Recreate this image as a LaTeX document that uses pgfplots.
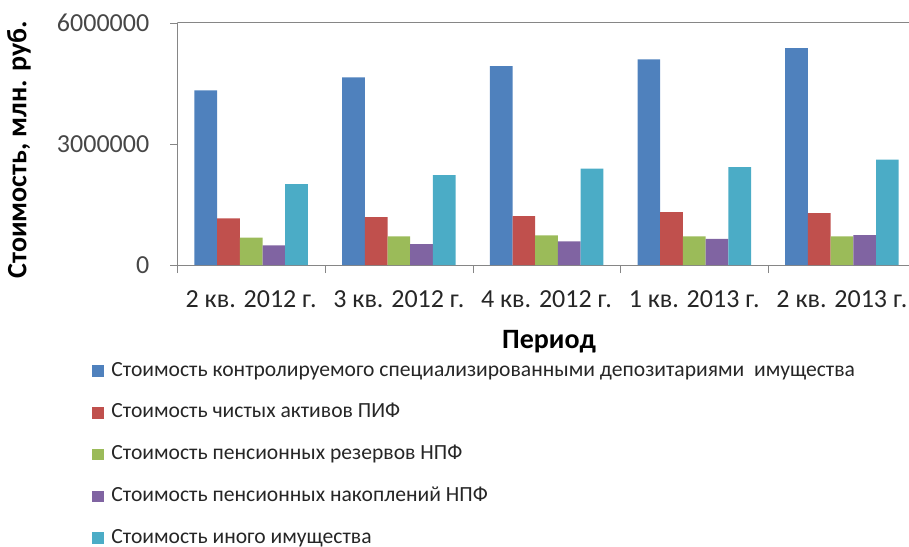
\documentclass[border=0pt]{standalone}
\usepackage{fontspec}
\setmainfont{Carlito}
\usepackage{pgfplots}
\pgfplotsset{compat=1.18}

\definecolor{sBlue}{HTML}{4F81BD}
\definecolor{sRed}{HTML}{C0504D}
\definecolor{sGreen}{HTML}{9BBB59}
\definecolor{sPurple}{HTML}{8064A2}
\definecolor{sCyan}{HTML}{4BACC6}
\definecolor{axgray}{HTML}{868686}
\definecolor{txt}{HTML}{262626}

\begin{document}
\begin{tikzpicture}
\useasboundingbox (-88.65pt,-140.5pt) rectangle (365.85pt,132.5pt);
\begin{axis}[
    at={(0,0)}, anchor=south west,
    scale only axis,
    width=365.85pt, height=121.15pt,
    ybar=0pt, bar width=11.35pt,
    xmin=-0.5, xmax=4.454,
    ymin=0, ymax=6000000,
    scaled y ticks=false,
    axis lines*=left,
    axis line style={axgray},
    xtick={0,1,2,3,4},
    xticklabels={2 кв. 2012 г.,3 кв. 2012 г.,4 кв. 2012 г.,1 кв. 2013 г.,2 кв. 2013 г.},
    major x tick style={draw=none},
    minor xtick={-0.5,0.5,1.5,2.5,3.5},
    minor x tick style={axgray},
    minor tick length=4pt,
    ytick={0,3000000,6000000},
    yticklabels={0,3000000,6000000},
    y tick style={axgray},
    major tick length=3.5pt,
    tick align=outside,
    xticklabel style={anchor=base, yshift=-17.6pt, font=\fontsize{13}{15}\selectfont, text=txt},
    yticklabel style={font=\fontsize{13}{15}\selectfont, text=black!72, xshift=-7pt},
    xlabel={Период},
    xlabel style={at={(axis description cs:0.508,0)}, anchor=center, yshift=-38.5pt, font=\bfseries\fontsize{14}{16}\selectfont},
    ylabel={Стоимость, млн. руб.},
    ylabel style={at={(axis description cs:-0.2163,0.4767)}, anchor=center, font=\bfseries\fontsize{14}{16}\selectfont},
    legend cell align=left,
    legend style={at={(axis description cs:-0.1166,-0.3945)}, anchor=north west,
        draw=none, fill=none, inner sep=0pt, outer sep=0pt,
        row sep=10.4pt, column sep=3.85pt,
        font=\fontsize{10.8}{13}\selectfont, text=txt,
        nodes={inner sep=0pt, text height=7.8pt, text depth=2.7pt}},
    legend image code/.code={\fill[#1] (0pt,-2.9pt) rectangle (5.85pt,2.95pt);},
]
\addplot[fill=sBlue, draw=none] coordinates {(0,4325000) (1,4647000) (2,4927000) (3,5093000) (4,5373000)};
\addplot[fill=sRed, draw=none] coordinates {(0,1155000) (1,1188000) (2,1213000) (3,1312000) (4,1287000)};
\addplot[fill=sGreen, draw=none] coordinates {(0,677000) (1,710000) (2,735000) (3,710000) (4,710000)};
\addplot[fill=sPurple, draw=none] coordinates {(0,487000) (1,520000) (2,586000) (3,644000) (4,743000)};
\addplot[fill=sCyan, draw=none] coordinates {(0,2005000) (1,2228000) (2,2385000) (3,2426000) (4,2607000)};
\legend{Стоимость контролируемого специализированными депозитариями\ \ имущества,
        Стоимость чистых активов ПИФ,
        Стоимость пенсионных резервов НПФ,
        Стоимость пенсионных накоплений НПФ,
        Стоимость иного имущества}
\draw[axgray] (rel axis cs:0,1) -- (rel axis cs:1,1);
\end{axis}
\end{tikzpicture}
\end{document}
